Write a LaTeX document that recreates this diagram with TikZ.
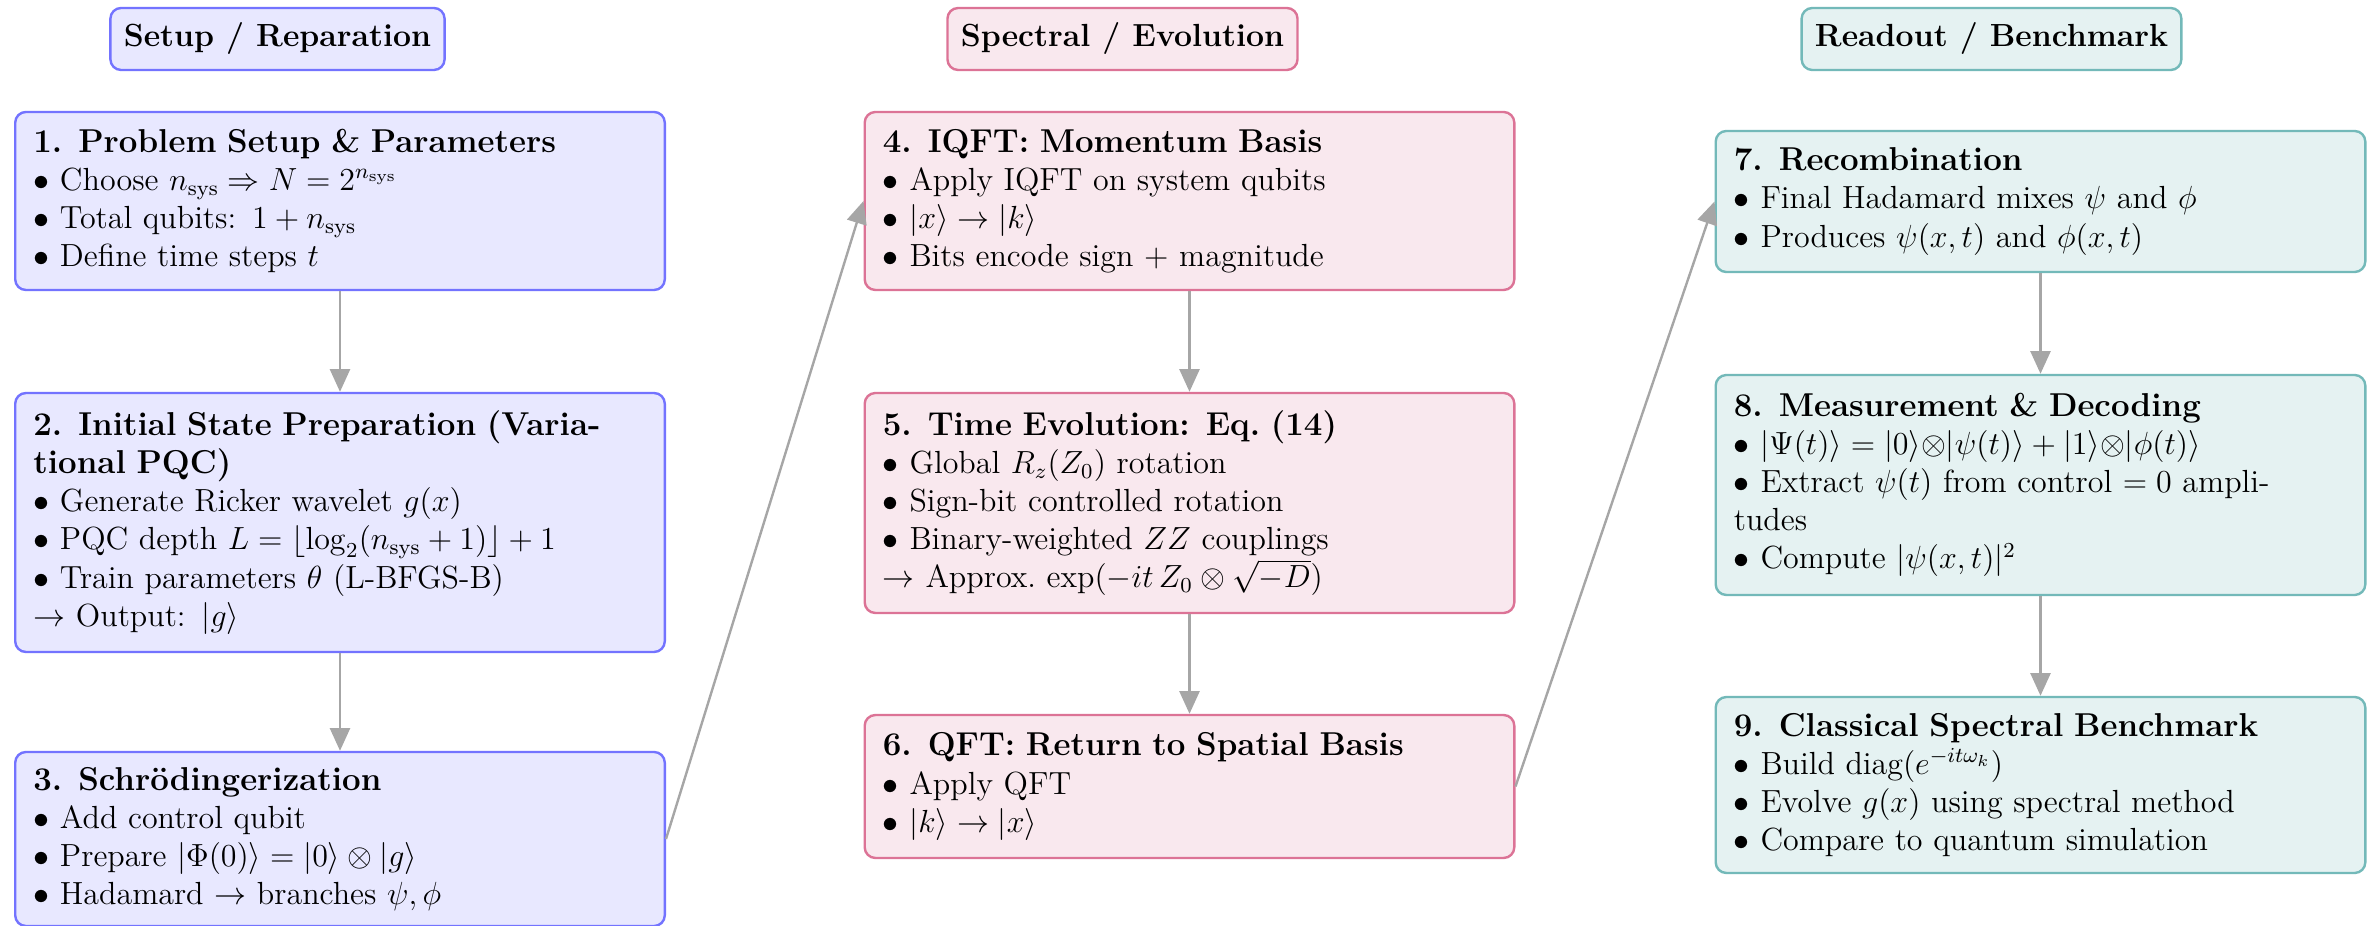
\documentclass[tikz,border=0pt]{standalone}
\usetikzlibrary{arrows.meta}

\newcommand{\stagetitle}[1]{{\fontsize{12.4pt}{14.3pt}\selectfont\bfseries #1}\\}

\tikzset{
  card/.style={draw, rounded corners=4pt, line width=0.9pt, text width=230pt,
    inner xsep=6.8pt, inner ysep=4pt, align=left,
    font=\fontsize{12pt}{14.3pt}\selectfont},
  head/.style={draw, rounded corners=4pt, line width=0.9pt, inner xsep=5pt,
    minimum height=23.25pt, font=\large\bfseries},
  colA/.style={draw=blue!55, fill=blue!9},
  colB/.style={draw=purple!55, fill=purple!9},
  colC/.style={draw=teal!55, fill=teal!10},
  flow/.style={draw=gray!70, line width=0.9pt,
    -{Triangle[length=8.5pt,width=7.5pt]}},
}

\begin{document}
\begin{tikzpicture}[x=0.375pt, y=-0.375pt]
\useasboundingbox (0,0) rectangle (2369,926);

% column headers
\node[head, colA] (h1) at (277.5,39) {Setup / Reparation};
\node[head, colB] (h2) at (1122.5,39) {Spectral / Evolution};
\node[head, colC] (h3) at (1991.5,39) {Readout / Benchmark};

% column 1: setup and preparation
\node[card, colA, minimum height=66.75pt] (s1) at (340,201) {%
  \stagetitle{1. Problem Setup \& Parameters}
  $\bullet$ Choose $n_{\mathrm{sys}} \Rightarrow N = 2^{n_{\mathrm{sys}}}$\\
  $\bullet$ Total qubits: $1 + n_{\mathrm{sys}}$\\
  $\bullet$ Define time steps $t$};

\node[card, colA, minimum height=97.1pt] (s2) at (340,522.5) {%
  \stagetitle{2. Initial State Preparation (Varia-\\tional PQC)}
  $\bullet$ Generate Ricker wavelet $g(x)$\\
  $\bullet$ PQC depth $L = \lfloor \log_2(n_{\mathrm{sys}}+1)\rfloor + 1$\\
  $\bullet$ Train parameters $\theta$ (L-BFGS-B)\\
  $\rightarrow$ Output: $|g\rangle$};

\node[card, colA, minimum height=65.25pt] (s3) at (340,839) {%
  \stagetitle{3. Schrödingerization}
  $\bullet$ Add control qubit\\
  $\bullet$ Prepare $|\Phi(0)\rangle = |0\rangle \otimes |g\rangle$\\
  $\bullet$ Hadamard $\rightarrow$ branches $\psi, \phi$};

% column 2: spectral evolution
\node[card, colB, minimum height=66.75pt] (s4) at (1189.5,201) {%
  \stagetitle{4. IQFT: Momentum Basis}
  $\bullet$ Apply IQFT on system qubits\\
  $\bullet$ $|x\rangle \rightarrow |k\rangle$\\
  $\bullet$ Bits encode sign + magnitude};

\node[card, colB, minimum height=82.5pt] (s5) at (1189.5,503) {%
  \stagetitle{5. Time Evolution: Eq.~(14)}
  $\bullet$ Global $R_z(Z_0)$ rotation\\
  $\bullet$ Sign-bit controlled rotation\\
  $\bullet$ Binary-weighted $ZZ$ couplings\\
  $\rightarrow$ Approx.\ $\exp(-it\,Z_0 \otimes \sqrt{-D})$};

\node[card, colB, minimum height=53.6pt] (s6) at (1189.5,786.5) {%
  \stagetitle{6. QFT: Return to Spatial Basis}
  $\bullet$ Apply QFT\\
  $\bullet$ $|k\rangle \rightarrow |x\rangle$};

% column 3: readout and benchmark
\node[card, colC, minimum height=52.9pt] (s7) at (2040.5,201.5) {%
  \stagetitle{7. Recombination}
  $\bullet$ Final Hadamard mixes $\psi$ and $\phi$\\
  $\bullet$ Produces $\psi(x,t)$ and $\phi(x,t)$};

\node[card, colC, minimum height=82.5pt] (s8) at (2040.5,485) {%
  \stagetitle{8. Measurement \& Decoding}
  $\bullet$ $|\Psi(t)\rangle = |0\rangle{\otimes}|\psi(t)\rangle + |1\rangle{\otimes}|\phi(t)\rangle$\\
  $\bullet$ Extract $\psi(t)$ from control $= 0$ ampli-\\
  tudes\\
  $\bullet$ Compute $|\psi(x,t)|^2$};

\node[card, colC, minimum height=66pt] (s9) at (2040.5,785) {%
  \stagetitle{9. Classical Spectral Benchmark}
  $\bullet$ Build diag$(e^{-it\omega_k})$\\
  $\bullet$ Evolve $g(x)$ using spectral method\\
  $\bullet$ Compare to quantum simulation};

% connectors
\draw[flow] (s1.south) -- (s2.north);
\draw[flow] (s2.south) -- (s3.north);
\draw[flow] (s3.east) -- (s4.west);
\draw[flow] (s4.south) -- (s5.north);
\draw[flow] (s5.south) -- (s6.north);
\draw[flow] (s6.east) -- (s7.west);
\draw[flow] (s7.south) -- (s8.north);
\draw[flow] (s8.south) -- (s9.north);
\end{tikzpicture}
\end{document}
